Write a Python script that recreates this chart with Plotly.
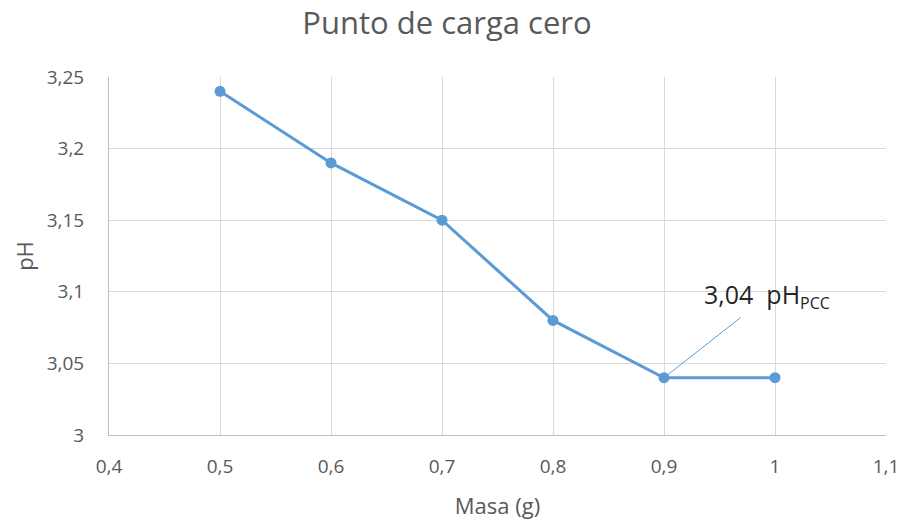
import plotly.graph_objects as go

# Point of zero charge experiment: mass of sample vs. final pH
masa = [0.5, 0.6, 0.7, 0.8, 0.9, 1.0]
ph = [3.24, 3.19, 3.15, 3.08, 3.04, 3.04]

ph_pcc = 3.04
masa_pcc = 0.9
label_pcc = "3,04&nbsp; pH<sub><span style='font-size:16px'>PCC</span></sub>"

line_color = "#5b9bd5"
grid_color = "#d9d9d9"
text_color = "#595959"
font_family = "Open Sans, Liberation Sans, sans-serif"

fig = go.Figure()
fig.add_trace(go.Scatter(
    x=masa, y=ph, mode="lines+markers",
    line=dict(color=line_color, width=3),
    marker=dict(color=line_color, size=11),
    showlegend=False,
))

# Leader line from the PCC point to its label
fig.add_shape(type="line", xref="x", yref="y",
              x0=masa_pcc, y0=ph_pcc, x1=0.969, y1=3.082,
              line=dict(color=line_color, width=1))
fig.add_annotation(x=0.993, y=3.0975, xref="x", yref="y",
                   text=label_pcc, showarrow=False,
                   xanchor="center", yanchor="middle",
                   font=dict(size=25, color="#262626", family=font_family))

fig.update_layout(
    width=903, height=522,
    margin=dict(l=109, r=17, t=77, b=87),
    paper_bgcolor="white", plot_bgcolor="white",
    separators=",.",
    title=dict(text="Punto de carga cero", x=0.495, xanchor="center",
               y=0.956, yanchor="middle",
               font=dict(size=31, color=text_color, family=font_family)),
    font=dict(family=font_family, color=text_color, size=19),
)
fig.update_xaxes(
    range=[0.4, 1.1], dtick=0.1, tick0=0.4, automargin=False,
    showgrid=True, gridcolor=grid_color, gridwidth=1,
    showline=True, linecolor="#bfbfbf", linewidth=1,
    zeroline=False, ticks="", ticklabelstandoff=14,
    tickfont=dict(size=19, color=text_color),
    title=dict(text="Masa (g)", font=dict(size=22, color=text_color), standoff=20),
)
fig.update_yaxes(
    range=[3.0, 3.25], dtick=0.05, tick0=3.0, automargin=False,
    showgrid=True, gridcolor=grid_color, gridwidth=1,
    showline=True, linecolor="#bfbfbf", linewidth=1,
    zeroline=False, ticks="", ticklabelstandoff=20,
    tickfont=dict(size=19, color=text_color),
    title=dict(text="pH", font=dict(size=22, color=text_color), standoff=6),
)

fig.write_html("out.html")
